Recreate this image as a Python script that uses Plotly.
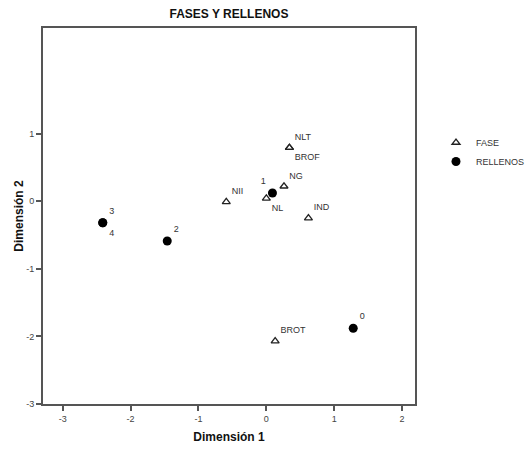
import plotly.graph_objects as go

# Category points (object scores) for the two variables
fase_labels = ["NLT", "BROF", "NG", "NL", "NII", "IND", "BROT"]
fase_x = [0.34, 0.34, 0.26, 0.00, -0.59, 0.62, 0.13]
fase_y = [0.79, 0.79, 0.22, 0.04, -0.01, -0.25, -2.07]
fase_pos = ["top right", "bottom right", "top right", "bottom right",
            "top right", "top right", "top right"]

relleno_labels = ["1", "2", "3", "4", "0"]
relleno_x = [0.09, -1.46, -2.41, -2.41, 1.28]
relleno_y = [0.12, -0.59, -0.32, -0.32, -1.88]
relleno_pos = ["top left", "top right", "top right", "bottom right", "top right"]

x_ticks = [-3, -2, -1, 0, 1, 2]
y_ticks = [-3, -2, -1, 0, 1]

FONT = "Liberation Sans, Arial, sans-serif"
label_font = dict(family=FONT, size=9, color="#333333")

fig = go.Figure()
fig.add_trace(go.Scatter(
    x=fase_x, y=fase_y, mode="markers+text", name="FASE",
    text=fase_labels, textposition=fase_pos, textfont=label_font,
    marker=dict(symbol="triangle-up-open", size=7, color="#222222",
                line=dict(width=1.3, color="#222222")),
))
fig.add_trace(go.Scatter(
    x=relleno_x, y=relleno_y, mode="markers+text", name="RELLENOS",
    text=relleno_labels, textposition=relleno_pos, textfont=label_font,
    marker=dict(symbol="circle", size=9, color="#000000"),
))

axis_common = dict(
    showgrid=False, zeroline=False, ticks="outside", ticklen=5,
    tickcolor="#555555", tickwidth=1.5,
    showline=True, linecolor="#555555", linewidth=2, mirror=True,
    tickfont=dict(family=FONT, size=9, color="#444444"),
)

fig.update_layout(
    width=530, height=451,
    margin=dict(l=43, r=115, t=28, b=47, autoexpand=False),
    paper_bgcolor="white", plot_bgcolor="white",
    title=dict(text="<b>FASES Y RELLENOS</b>", x=(43 + 415) / 2 / 530,
               xanchor="center", y=1 - 14 / 451, yanchor="middle",
               font=dict(family=FONT, size=12, color="#111111")),
    xaxis=dict(range=[-3.29, 2.19], tickvals=x_ticks,
               ticktext=[str(v) for v in x_ticks],
               title=dict(text="<b>Dimensión 1</b>", standoff=10,
                          font=dict(family=FONT, size=12, color="#111111")),
               **axis_common),
    yaxis=dict(range=[-3, 2.56], tickvals=y_ticks,
               ticktext=[str(v) for v in y_ticks],
               title=dict(text="<b>Dimensión 2</b>", standoff=0,
                          font=dict(family=FONT, size=12, color="#111111")),
               **axis_common),
    showlegend=True,
    legend=dict(xref="container", yref="container",
                x=436 / 530, y=1 - 128 / 451, xanchor="left", yanchor="top",
                font=dict(family=FONT, size=9, color="#333333"),
                itemwidth=30, tracegroupgap=0,
                bgcolor="rgba(0,0,0,0)"),
)

fig.write_html("out.html")
